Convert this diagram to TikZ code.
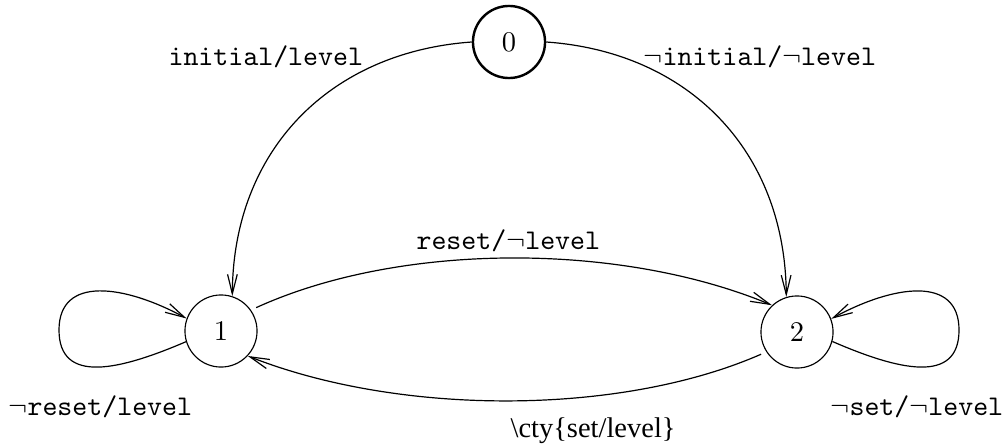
\documentclass[tikz,border=0pt]{standalone}
\usepackage{fontspec}
\newfontfamily\timesf{Liberation Serif}
\newcommand{\cmttfont}{\fontencoding{OT1}\fontfamily{cmtt}\fontseries{m}\fontshape{n}\fontsize{10}{12}\selectfont}
\usetikzlibrary{arrows.meta}
\begin{document}
\begin{tikzpicture}[x=0.351pt,y=-0.351pt,
  state/.style={circle,draw,minimum size=25.3pt,inner sep=0pt,font=\fontsize{10}{12}\selectfont},
  initstate/.style={state,line width=0.85pt},
  lbl/.style={anchor=base west,inner sep=0pt,font=\cmttfont},
  trans/.style={line width=0.42pt,-{Straight Barb[length=6.8pt,width=3.4pt,line width=0.42pt]}}
]
\useasboundingbox (0,0) rectangle (1008,446);
\node[initstate] (n0) at (509,42) {0};
\node[state] (n1) at (221,331) {1};
\node[state] (n2) at (797,332) {2};

\draw[trans] (n0.180) .. controls (330,52) and (233,150) .. (n1.72);
\draw[trans] (n0.0) .. controls (688,52) and (785,150) .. (n2.107);
\draw[trans,shorten <=2pt] (n1.35) .. controls (400,242) and (620,242) .. (n2.133);
\draw[trans,shorten <=2pt] (n2.213) .. controls (620,416) and (400,416) .. (n1.-43);

\coordinate (l1) at (59,330);
\coordinate (l2) at (959,330);
\draw[trans] (n1.197) .. controls (120,370) and (59,385) .. (l1)
  .. controls (59,275) and (125,285) .. (n1.160);
\draw[trans] (n2.-15) .. controls (898,370) and (959,385) .. (l2)
  .. controls (959,275) and (893,285) .. (n2.21);

\node[lbl] (t01) at (168,65) {initial/level};
\node[lbl] (t02) at (643,65) {$\neg$initial/$\neg$level};
\node[lbl] (t12) at (416,249) {reset/$\neg$level};
\node[lbl] (t11) at (8,415) {$\neg$reset/level};
\node[lbl] (t22) at (830,415) {$\neg$set/$\neg$level};
\node[anchor=base west,inner sep=0pt,font=\timesf\fontsize{10}{12}\selectfont] (t21) at (510,437) {\textbackslash cty\{set/level\}};
\end{tikzpicture}
\end{document}
